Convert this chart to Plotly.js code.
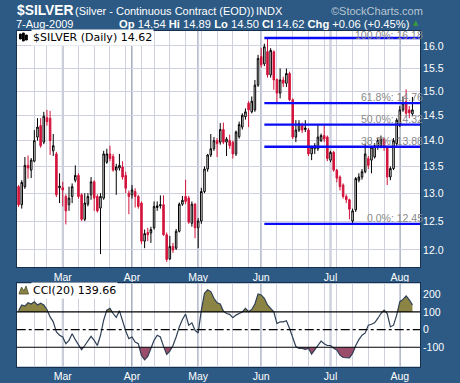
<!DOCTYPE html>
<html><head><meta charset="utf-8">
<script src="https://cdn.plot.ly/plotly-3.0.1.min.js"></script>
<style>html,body{margin:0;padding:0;background:#2c5a84;overflow:hidden}#chart{width:460px;height:383px}</style>
</head><body><div id="chart"></div>
<script>
const dates = [
'2009-02-09','2009-02-10','2009-02-11','2009-02-12','2009-02-13','2009-02-17','2009-02-18','2009-02-19','2009-02-20','2009-02-23','2009-02-24','2009-02-25','2009-02-26','2009-02-27',
'2009-03-02','2009-03-03','2009-03-04','2009-03-05','2009-03-06','2009-03-09','2009-03-10','2009-03-11','2009-03-12','2009-03-13','2009-03-16','2009-03-17','2009-03-18','2009-03-19','2009-03-20','2009-03-23','2009-03-24','2009-03-25','2009-03-26','2009-03-27','2009-03-30','2009-03-31',
'2009-04-01','2009-04-02','2009-04-03','2009-04-06','2009-04-07','2009-04-08','2009-04-09','2009-04-13','2009-04-14','2009-04-15','2009-04-16','2009-04-17','2009-04-20','2009-04-21','2009-04-22','2009-04-23','2009-04-24','2009-04-27','2009-04-28','2009-04-29','2009-04-30',
'2009-05-01','2009-05-04','2009-05-05','2009-05-06','2009-05-07','2009-05-08','2009-05-11','2009-05-12','2009-05-13','2009-05-14','2009-05-15','2009-05-18','2009-05-19','2009-05-20','2009-05-21','2009-05-22','2009-05-26','2009-05-27','2009-05-28','2009-05-29',
'2009-06-01','2009-06-02','2009-06-03','2009-06-04','2009-06-05','2009-06-08','2009-06-09','2009-06-10','2009-06-11','2009-06-12','2009-06-15','2009-06-16','2009-06-17','2009-06-18','2009-06-19','2009-06-22','2009-06-23','2009-06-24','2009-06-25','2009-06-26','2009-06-29','2009-06-30',
'2009-07-01','2009-07-02','2009-07-06','2009-07-07','2009-07-08','2009-07-09','2009-07-10','2009-07-13','2009-07-14','2009-07-15','2009-07-16','2009-07-17','2009-07-20','2009-07-21','2009-07-22','2009-07-23','2009-07-24','2009-07-27','2009-07-28','2009-07-29','2009-07-30','2009-07-31',
'2009-08-03','2009-08-04','2009-08-05','2009-08-06','2009-08-07'];

const open = [13.12,12.79,13.12,13.52,13.43,13.60,14.07,14.30,13.97,14.46,14.45,13.80,13.74,13.10,
13.10,12.94,12.79,12.94,13.24,13.33,12.97,12.53,12.80,12.97,13.21,12.94,12.73,12.91,13.58,13.74,13.69,13.43,13.47,13.49,13.33,13.00,
12.97,13.03,12.94,12.82,12.15,12.30,12.29,12.38,12.74,12.77,12.79,12.26,11.85,12.06,12.03,12.32,12.80,12.94,12.91,12.46,12.80,
12.38,12.50,13.03,13.45,13.72,13.84,14.00,13.97,14.22,13.97,14.00,13.97,13.74,14.08,14.27,14.48,14.76,14.58,14.62,15.14,
15.76,15.60,15.87,15.36,15.87,15.26,14.97,15.25,15.18,15.39,14.83,14.07,14.21,14.31,14.22,14.21,13.74,13.84,13.84,14.00,14.10,14.07,
13.62,13.77,13.43,13.30,13.15,12.94,12.88,12.50,12.70,13.24,13.30,13.40,13.65,13.62,13.68,13.87,13.90,14.03,13.87,13.30,13.46,13.94,
14.30,14.62,14.79,14.62,14.54];
const high = [13.15,13.24,13.68,13.71,13.66,14.21,14.45,14.45,14.58,14.62,14.60,14.13,13.78,13.37,
13.21,12.98,13.12,13.18,13.52,13.37,13.00,13.00,13.00,13.30,13.24,12.98,13.00,13.80,13.84,13.90,13.74,13.55,13.74,13.60,13.40,13.05,
13.15,13.09,12.97,12.85,12.35,12.38,12.40,12.85,12.85,12.96,12.96,12.30,12.24,12.12,12.36,12.83,12.95,13.25,12.95,12.85,12.82,
12.55,13.10,13.50,13.74,14.13,14.07,14.05,14.35,14.36,14.07,14.12,14.00,14.20,14.38,14.55,14.65,14.80,14.90,15.25,15.80,
15.95,16.05,16.18,15.95,15.90,15.28,15.50,15.32,15.50,15.43,14.86,14.41,14.41,14.36,14.41,14.25,13.90,13.95,14.31,14.14,14.31,14.10,
13.80,13.80,13.45,13.33,13.18,12.98,12.90,12.72,13.30,13.37,13.45,13.94,13.70,13.90,13.95,14.05,14.10,14.05,13.90,13.50,14.05,14.45,
14.70,14.90,15.05,14.70,14.89];
const low = [12.75,12.72,13.08,13.27,13.28,13.58,14.00,13.86,13.93,14.30,13.72,13.70,12.93,12.82,
12.76,12.44,12.68,12.82,13.20,12.90,12.50,12.50,12.76,12.88,12.68,12.65,11.93,12.88,13.55,13.60,13.40,12.97,13.42,13.25,13.00,12.62,
12.90,12.74,12.72,12.10,12.03,12.15,12.12,12.35,12.68,12.72,12.24,11.80,11.83,11.95,12.00,12.30,12.77,12.80,12.45,12.40,12.20,
12.03,12.45,13.00,13.40,13.68,13.80,13.68,13.92,13.93,13.70,13.84,13.65,13.70,14.04,14.22,14.42,14.27,14.55,14.58,15.10,
15.52,15.55,15.30,15.30,15.04,14.76,14.86,15.10,15.10,14.80,14.03,13.97,14.17,14.15,14.17,13.70,13.62,13.74,13.80,13.97,13.97,13.60,
13.58,13.40,13.20,13.05,12.90,12.82,12.53,12.45,12.66,13.20,13.25,13.37,13.45,13.37,13.65,13.82,13.85,13.80,13.15,13.24,13.43,13.90,
14.27,14.58,14.50,14.45,14.50];
const close = [12.79,13.20,13.52,13.47,13.62,14.00,14.27,13.90,14.49,14.38,14.00,13.90,12.97,13.13,
13.06,12.68,12.91,13.12,13.33,12.94,12.53,12.82,12.94,13.21,12.91,12.68,12.94,13.74,13.74,13.65,13.43,13.49,13.52,13.30,13.09,12.94,
13.06,12.94,12.76,12.15,12.28,12.26,12.35,12.76,12.77,12.79,12.26,11.84,12.06,12.00,12.32,12.80,12.87,12.85,12.48,12.80,12.38,
12.50,13.03,13.45,13.72,13.84,14.00,13.94,14.22,13.97,14.03,13.90,13.74,14.17,14.32,14.51,14.58,14.62,14.80,15.14,15.72,
15.58,15.98,15.36,15.90,15.25,14.97,15.25,15.18,15.39,14.83,14.07,14.21,14.34,14.21,14.25,13.74,13.87,13.90,14.07,14.10,14.03,13.65,
13.77,13.43,13.28,13.12,12.94,12.88,12.71,12.68,13.27,13.30,13.40,13.74,13.52,13.87,13.90,14.00,14.03,13.87,13.30,13.46,14.00,14.41,
14.62,14.76,14.55,14.56,14.62];
const cci = [107,139,133,152,145,158,139,149,139,114,72,44,-13,-32,
-42,-80,-61,-23,-57,-90,-114,-90,-61,-38,-61,-90,-32,53,110,120,91,69,107,44,-8,-51,
-42,-70,-80,-147,-171,-152,-109,-61,-32,-42,-95,-141,-122,-90,-42,15,57,88,25,38,-4,
-19,110,206,225,215,177,152,145,104,91,86,67,82,91,100,120,101,114,145,202,
196,177,139,120,101,34,44,44,50,6,-51,-96,-106,-106,-112,-106,-139,-115,-90,-65,-80,-90,
-90,-106,-115,-145,-158,-160,-160,-135,-90,-57,-32,-19,25,30,38,63,91,110,91,15,25,82,
158,171,190,168,140];

const monthNames = ['Jan','Feb','Mar','Apr','May','Jun','Jul','Aug','Sep','Oct','Nov','Dec'];
const priceTicks = [12.0,12.5,13.0,13.5,14.0,14.5,15.0,15.5,16.0];
const cciTicks = [-100,0,100,200];
const cciBands = [100,-100];
const fibLevels = [16.18,14.76,14.32,13.88,12.45];
const fibNames = ['100.0%','61.8%','50.0%','38.2%','0.0%'];
const fibStartDate = '2009-06-02';

// ---- derived ----
const idx = dates.map((_, i) => i);
const dObjs = dates.map(s => new Date(s + 'T00:00:00Z'));
const weekStarts = [], monthStarts = [];
for (let i = 1; i < dates.length; i++) {
  const a = dObjs[i-1], b = dObjs[i];
  if (b.getUTCDay() <= a.getUTCDay() || (b - a) / 864e5 >= 7) weekStarts.push(i);
  if (b.getUTCMonth() !== a.getUTCMonth()) monthStarts.push(i);
}
const gridVals = Array.from(new Set([...weekStarts, ...monthStarts])).sort((a,b)=>a-b);
const gridText = gridVals.map(i => monthStarts.includes(i) ? monthNames[dObjs[i].getUTCMonth()] : '');
const xRange = [-0.6, dates.length + 1.4];

function band(level, above) {
  const X = [], Y = [];
  for (let i = 0; i < cci.length; i++) {
    if (i > 0) {
      const a = cci[i-1] - level, b = cci[i] - level;
      if ((a > 0 && b < 0) || (a < 0 && b > 0)) { X.push(i - 1 + a / (a - b)); Y.push(level); }
    }
    X.push(i); Y.push(above ? Math.max(cci[i], level) : Math.min(cci[i], level));
  }
  return {X, Y};
}
const up = band(cciBands[0], true), dn = band(cciBands[1], false);

const W = 460, H = 383;
const px = v => v / W, py = v => 1 - v / H;
const xDom = [px(16.7), px(420)];
const WHITE = '#ffffff';
const axFont = {family:'Liberation Sans, Arial, sans-serif', size:10.5, color:WHITE};

const traces = [
  {type:'candlestick', x:idx, open:open, high:high, low:low, close:close, xaxis:'x', yaxis:'y',
   increasing:{line:{color:'#000000', width:1}, fillcolor:'#ffffff'},
   decreasing:{line:{color:'#d3143c', width:1}, fillcolor:'#d3143c'},
   whiskerwidth:0, hoverinfo:'skip', showlegend:false},
  {type:'scatter', mode:'lines', x:up.X, y:up.X.map(()=>cciBands[0]), xaxis:'x2', yaxis:'y2', line:{width:0}, hoverinfo:'skip', showlegend:false},
  {type:'scatter', mode:'lines', x:up.X, y:up.Y, xaxis:'x2', yaxis:'y2', fill:'tonexty', fillcolor:'#8b8444', line:{width:0}, hoverinfo:'skip', showlegend:false},
  {type:'scatter', mode:'lines', x:dn.X, y:dn.X.map(()=>cciBands[1]), xaxis:'x2', yaxis:'y2', line:{width:0}, hoverinfo:'skip', showlegend:false},
  {type:'scatter', mode:'lines', x:dn.X, y:dn.Y, xaxis:'x2', yaxis:'y2', fill:'tonexty', fillcolor:'#9b4d6c', line:{width:0}, hoverinfo:'skip', showlegend:false},
  {type:'scatter', mode:'lines', x:idx, y:cci, xaxis:'x2', yaxis:'y2', line:{color:'#2f3f55', width:1.2}, hoverinfo:'skip', showlegend:false}
];

const shapes = [];
monthStarts.forEach(m => {
  shapes.push({type:'line', xref:'x', yref:'paper', x0:m, x1:m, y0:py(267.3), y1:py(31), line:{color:'#97a0b2', width:1.7}, layer:'below'});
  shapes.push({type:'line', xref:'x2', yref:'paper', x0:m, x1:m, y0:py(366.7), y1:py(283.3), line:{color:'#97a0b2', width:1.7}, layer:'below'});
});
shapes.push({type:'line', xref:'paper', yref:'y2', x0:xDom[0], x1:xDom[1], y0:cciBands[0], y1:cciBands[0], line:{color:'#000', width:1.2}});
shapes.push({type:'line', xref:'paper', yref:'y2', x0:xDom[0], x1:xDom[1], y0:cciBands[1], y1:cciBands[1], line:{color:'#000', width:1.2}});
shapes.push({type:'line', xref:'paper', yref:'y2', x0:xDom[0], x1:xDom[1], y0:0, y1:0, line:{color:'#000', width:1.2, dash:'dashdot'}});
const fibX0 = dates.indexOf(fibStartDate);
fibLevels.forEach(l => shapes.push({type:'line', xref:'x', yref:'y', x0:fibX0, x1:xRange[1], y0:l, y1:l, line:{color:'#0a0cf5', width:2.4}}));
// legend icons
[[19.5,34,39],[22.5,33,41],[25.5,35,40]].forEach(r => shapes.push({type:'rect', xref:'paper', yref:'paper', x0:px(r[0]), x1:px(r[0]+1.8), y0:py(r[2]), y1:py(r[1]), line:{color:'#000', width:1}, fillcolor:'#000'}));
shapes.push({type:'path', xref:'paper', yref:'paper', fillcolor:'#8b8444', line:{color:'#4a4a2a', width:0.8},
  path:`M ${px(19)},${py(294)} L ${px(21.5)},${py(287)} L ${px(24)},${py(291)} L ${px(26)},${py(286)} L ${px(28.5)},${py(294)} Z`});

const ann = [];
const hdr = 'Liberation Sans, Arial, sans-serif';
ann.push({xref:'paper', yref:'paper', x:px(15), y:py(10.5), xanchor:'left', yanchor:'middle', showarrow:false, text:'<b>$SILVER</b>', font:{family:hdr, size:13.8, color:WHITE}});
ann.push({xref:'paper', yref:'paper', x:px(73), y:py(11), xanchor:'left', yanchor:'middle', showarrow:false, text:'(Silver - Continuous Contract (EOD))', font:{family:hdr, size:11, color:WHITE}});
ann.push({xref:'paper', yref:'paper', x:px(254), y:py(11), xanchor:'left', yanchor:'middle', showarrow:false, text:'INDX', font:{family:hdr, size:11, color:WHITE}});
ann.push({xref:'paper', yref:'paper', x:px(329), y:py(11), xanchor:'left', yanchor:'middle', showarrow:false, text:'\u00a9StockCharts.com', font:{family:hdr, size:11, color:'#b9c6d3'}});
ann.push({xref:'paper', yref:'paper', x:px(15), y:py(23.5), xanchor:'left', yanchor:'middle', borderpad:0, showarrow:false, text:'7-Aug-2009', font:{family:hdr, size:11, color:WHITE}});
const stats = '<b>Op</b> 14.54 <b>Hi</b> 14.89 <b>Lo</b> 14.50 <b>Cl</b> 14.62 <b>Chg</b> +0.06 (+0.45%)';
ann.push({xref:'paper', yref:'paper', x:px(117.5), y:py(23.5), xanchor:'left', yanchor:'middle', borderpad:0, showarrow:false, text:stats, font:{family:hdr, size:11.2, color:WHITE}});
ann.push({xref:'paper', yref:'paper', x:px(416), y:py(23), xanchor:'center', yanchor:'middle', showarrow:false, text:'\u25b2', font:{family:'DejaVu Sans', size:7, color:'#3a9a3a'}});
ann.push({xref:'paper', yref:'paper', x:px(31), y:py(37), xanchor:'left', yanchor:'middle', showarrow:false, text:'$SILVER (Daily) 14.62', bgcolor:'#ffffff', borderpad:1, font:{family:'DejaVu Sans', size:11, color:'#000'}});
ann.push({xref:'paper', yref:'paper', x:px(31), y:py(290), xanchor:'left', yanchor:'middle', showarrow:false, text:'CCI(20) 139.66', bgcolor:'#ffffff', borderpad:1, font:{family:'DejaVu Sans', size:11, color:'#000'}});
fibLevels.forEach((l, k) => ann.push({xref:'paper', yref:'y', x:px(424), y:Math.log10(l), xanchor:'right', yanchor:'bottom', yshift:(k === 0 ? -4 : -1), borderpad:0, showarrow:false,
  text:`${fibNames[k]}: ${l.toFixed(2)}`, font:{family:hdr, size:10.5, color:'#8a8a8a'}}));

const layout = {
  width:W, height:H, margin:{l:0, r:0, t:0, b:0},
  paper_bgcolor:'#2c5a84', plot_bgcolor:'#ffffff', showlegend:false, hovermode:false,
  xaxis:{domain:xDom, anchor:'y', range:xRange, tickvals:gridVals, ticktext:gridText, showgrid:true, gridcolor:'#cfd2de', gridwidth:1,
    ticks:'', tickfont:axFont, showline:true, mirror:true, linecolor:'#18304f', linewidth:1, zeroline:false, rangeslider:{visible:false}, fixedrange:true},
  yaxis:{domain:[py(267.3), py(31)], anchor:'x', type:'log', range:[Math.log10(11.71), Math.log10(16.34)], side:'right',
    tickvals:priceTicks, ticktext:priceTicks.map(v=>v.toFixed(1)), showgrid:true, gridcolor:'#cfd2de', ticks:'', tickfont:axFont,
    showline:true, mirror:true, linecolor:'#18304f', linewidth:1, zeroline:false},
  xaxis2:{domain:xDom, anchor:'y2', range:xRange, tickvals:gridVals, ticktext:gridText, showgrid:true, gridcolor:'#cfd2de', gridwidth:1,
    ticks:'', tickfont:axFont, showline:true, mirror:true, linecolor:'#18304f', linewidth:1, zeroline:false},
  yaxis2:{domain:[py(366.7), py(283.3)], anchor:'x2', range:[-210, 262], side:'right', tickvals:cciTicks, ticktext:cciTicks.map(String),
    showgrid:false, ticks:'', tickfont:axFont, showline:true, mirror:true, linecolor:'#18304f', linewidth:1, zeroline:false},
  shapes:shapes, annotations:ann
};
Plotly.newPlot('chart', traces, layout, {staticPlot:true, displayModeBar:false});
</script></body></html>
